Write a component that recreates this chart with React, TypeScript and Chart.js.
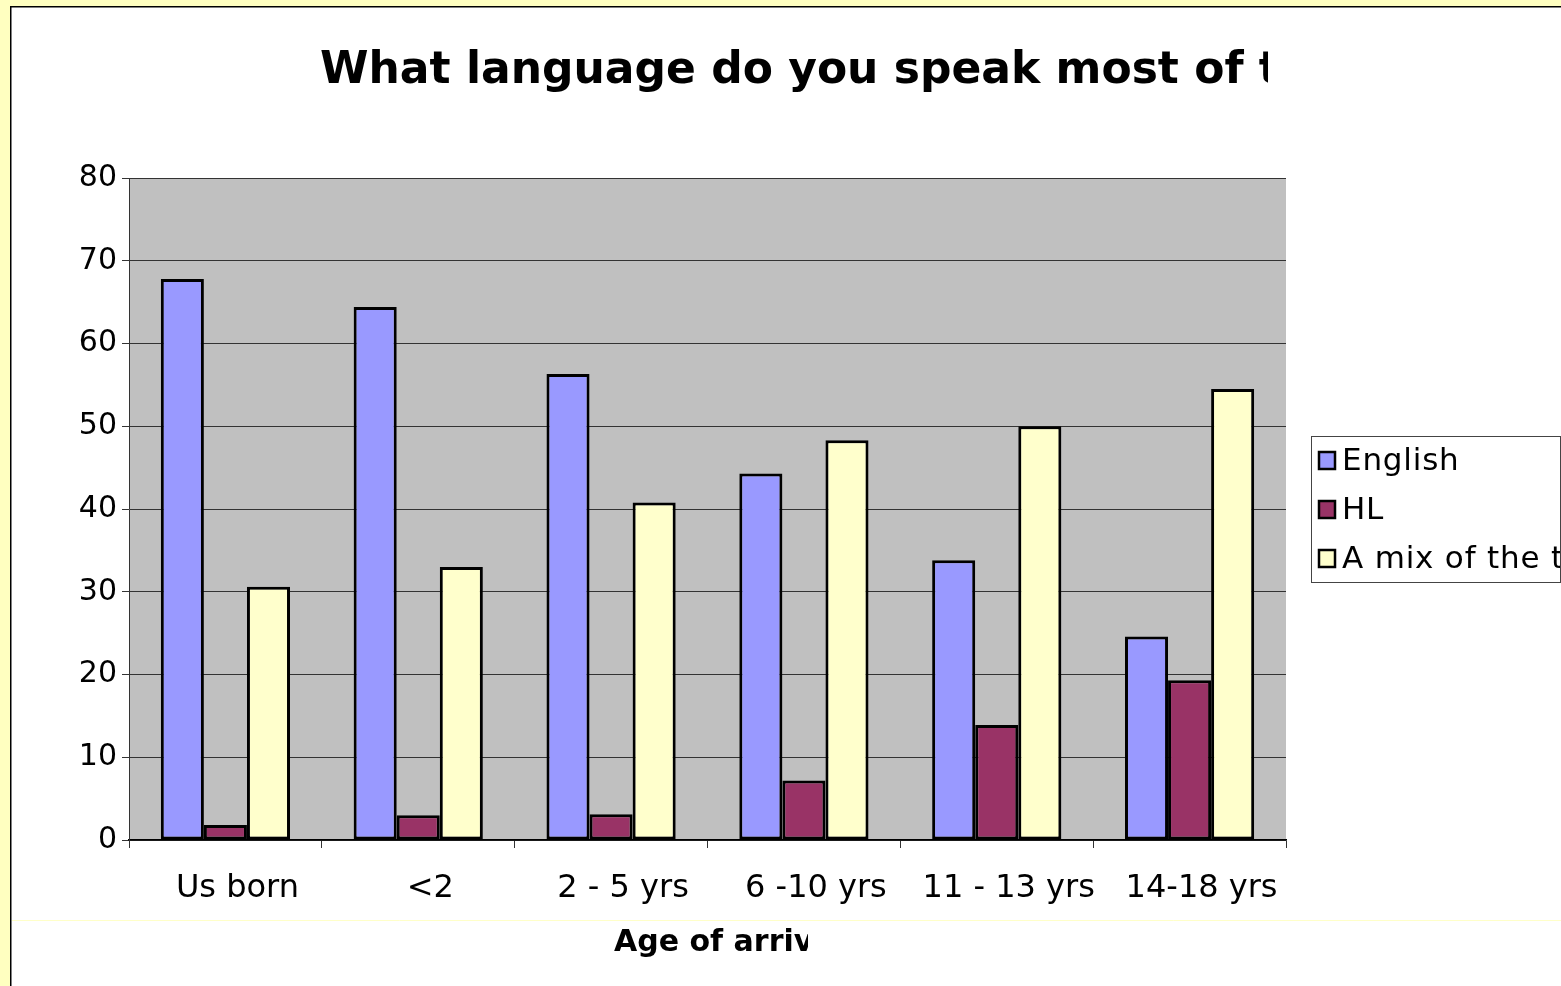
import React, { useEffect, useRef } from "react";
import { Chart, registerables } from "chart.js";

Chart.register(...registerables);

const categories = ["Us born", "<2", "2 - 5 yrs", "6 -10 yrs", "11 - 13 yrs", "14-18 yrs"];
const englishValues = [67.8, 64.4, 56.3, 44.3, 33.8, 24.6];
const hlValues = [1.8, 3.0, 3.1, 7.2, 13.9, 19.3];
const mixValues = [30.6, 33.0, 40.8, 48.3, 50.0, 54.5];
const seriesNames = ["English", "HL", "A mix of the two"];
const seriesColors = ["#9999FF", "#993366", "#FFFFCC"];
const titleText = "What language do you speak most of the time?";
const xAxisTitle = "Age of arrival";

const W = 1561;
const H = 986;

const decorPlugin = {
  id: "decor",
  beforeDraw(chart: any) {
    const ctx = chart.ctx;
    ctx.save();
    ctx.fillStyle = "#FFFFC0";
    ctx.fillRect(0, 0, W, H);
    ctx.fillStyle = "#FFFFFF";
    ctx.fillRect(10, 6, W - 10, H - 6);
    ctx.strokeStyle = "#000000";
    ctx.lineWidth = 1.5;
    ctx.beginPath();
    ctx.moveTo(10.75, H);
    ctx.lineTo(10.75, 6.75);
    ctx.lineTo(W, 6.75);
    ctx.stroke();
    ctx.strokeStyle = "#FFFFC8";
    ctx.lineWidth = 1;
    ctx.beginPath();
    ctx.moveTo(12, 920.5);
    ctx.lineTo(W, 920.5);
    ctx.stroke();
    const a = chart.chartArea;
    ctx.fillStyle = "#C0C0C0";
    ctx.fillRect(a.left, a.top, a.right - a.left, a.bottom - a.top);
    ctx.restore();
  },
  afterDraw(chart: any) {
    const ctx = chart.ctx;
    ctx.save();
    // title (clipped)
    ctx.save();
    ctx.beginPath();
    ctx.rect(0, 0, 1268, 200);
    ctx.clip();
    ctx.fillStyle = "#000000";
    ctx.font = "bold 44px 'DejaVu Sans'";
    ctx.textAlign = "left";
    ctx.textBaseline = "alphabetic";
    ctx.fillText(titleText, 320, 83);
    ctx.restore();

    // x axis title (clipped)
    ctx.save();
    ctx.beginPath();
    ctx.rect(0, 900, 808, 86);
    ctx.clip();
    ctx.fillStyle = "#000000";
    ctx.font = "bold 30px 'DejaVu Sans'";
    ctx.textAlign = "left";
    ctx.textBaseline = "alphabetic";
    ctx.fillText(xAxisTitle, 614, 951);
    ctx.restore();

    // legend box
    const bx = 1311.5, by = 436.5, bw = 249, bh = 146;
    ctx.fillStyle = "#FFFFFF";
    ctx.fillRect(bx, by, bw, bh);
    ctx.save();
    ctx.beginPath();
    ctx.rect(bx, by, bw, bh);
    ctx.clip();
    const rows = [461, 510, 559];
    ctx.font = "31px 'DejaVu Sans'";
    (ctx as any).letterSpacing = "0.8px";
    ctx.textBaseline = "middle";
    ctx.textAlign = "left";
    seriesNames.forEach((name, i) => {
      ctx.fillStyle = seriesColors[i];
      ctx.fillRect(1319, rows[i] - 9, 16, 17);
      ctx.strokeStyle = "#000000";
      ctx.lineWidth = 2.5;
      ctx.strokeRect(1319, rows[i] - 9, 16, 17);
      ctx.fillStyle = "#000000";
      ctx.fillText(name, 1342, rows[i] + 1);
    });
    (ctx as any).letterSpacing = "0px";
    ctx.restore();
    ctx.strokeStyle = "#444444";
    ctx.lineWidth = 1;
    ctx.strokeRect(bx, by, bw, bh);
    ctx.restore();
  },
};

export default function App() {
  const ref = useRef<HTMLCanvasElement>(null);
  useEffect(() => {
    document.body.style.margin = "0";
    const canvas = ref.current!;
    const datasets = [englishValues, hlValues, mixValues].map((d, i) => ({
      label: seriesNames[i],
      data: d,
      backgroundColor: seriesColors[i],
      borderColor: "#000000",
      borderWidth: 3,
      borderSkipped: false,
      barPercentage: 1,
      categoryPercentage: 0.67,
    }));
    const chart = new Chart(canvas, {
      type: "bar",
      data: { labels: categories, datasets },
      plugins: [decorPlugin],
      options: {
        responsive: false,
        animation: false,
        devicePixelRatio: 1,
        layout: { padding: { left: 79, top: 178, right: 275, bottom: 66 } },
        plugins: {
          legend: { display: false },
          title: { display: false },
          tooltip: { enabled: false },
        },
        scales: {
          x: {
            afterFit: (s: any) => { s.height = 80; },
            grid: {
              drawOnChartArea: false,
              drawTicks: true,
              tickLength: 8,
              color: "#333333",
              offset: true,
            },
            border: { color: "#000000", width: 1.5 },
            ticks: {
              color: "#000000",
              font: { family: "'DejaVu Sans'", size: 32 },
              padding: 21,
              labelOffset: 12,
              maxRotation: 0,
              autoSkip: false,
            },
          },
          y: {
            min: 0,
            max: 80,
            afterFit: (s: any) => { s.width = 50; },
            grid: {
              color: "#333333",
              lineWidth: 1,
              drawTicks: true,
              tickLength: 7,
            },
            border: { color: "#333333", width: 1 },
            ticks: {
              stepSize: 10,
              color: "#000000",
              font: { family: "'DejaVu Sans'", size: 30 },
              padding: 5,
            },
          },
        },
      },
    });
    return () => chart.destroy();
  }, []);
  return (
    <canvas
      ref={ref}
      width={W}
      height={H}
      style={{ display: "block", width: W + "px", height: H + "px" }}
    />
  );
}
